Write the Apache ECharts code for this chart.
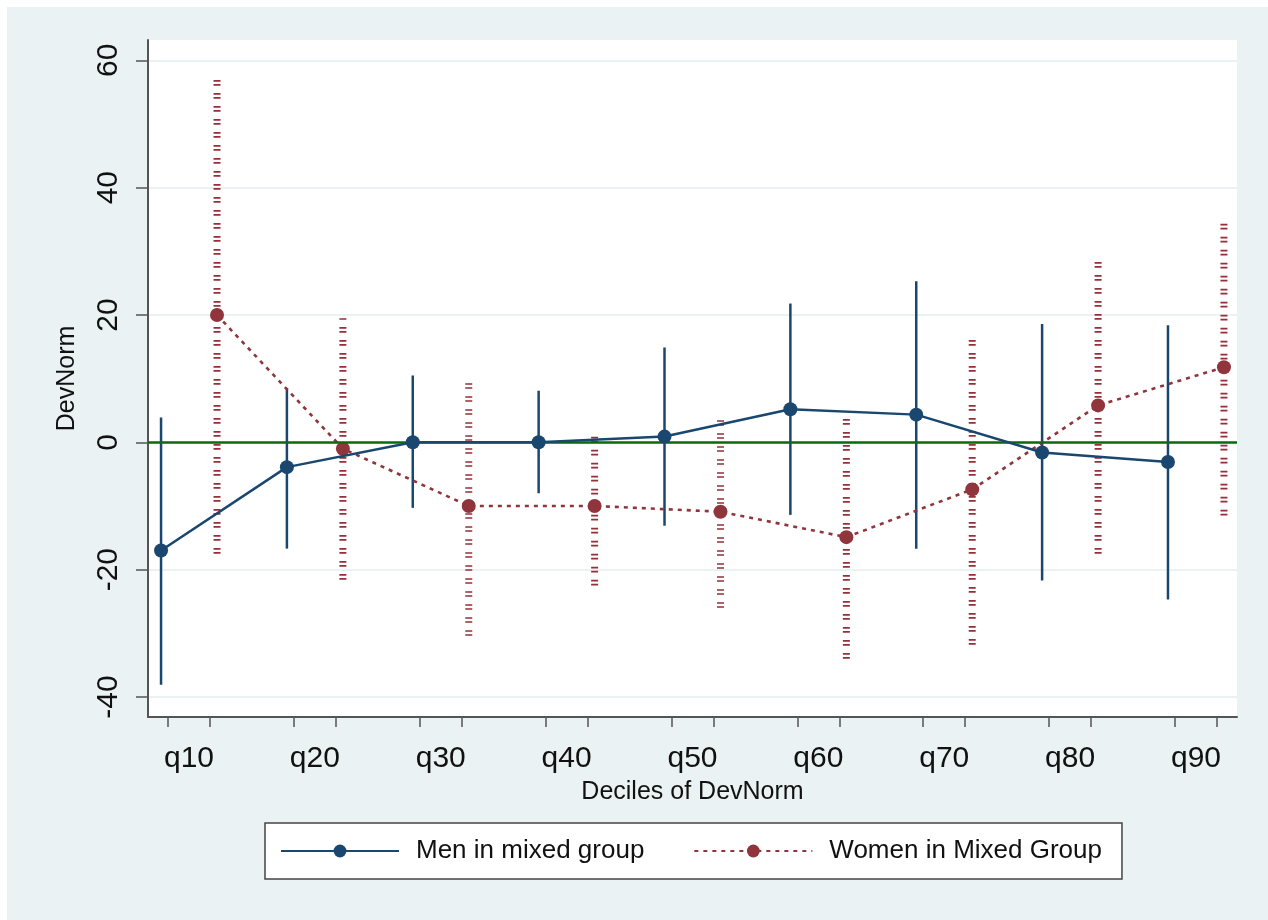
<!DOCTYPE html>
<html>
<head>
<meta charset="utf-8">
<script src="https://cdn.jsdelivr.net/npm/echarts@6/dist/echarts.min.js"></script>
<style>
  html, body { margin: 0; padding: 0; background: #ffffff; }
  #bg { position: absolute; left: 7px; top: 7px; width: 1261px; height: 913px; background: #eaf2f3; }
  #chart { position: absolute; left: 0; top: 0; width: 1268px; height: 920px; }
</style>
</head>
<body>
<div id="bg"></div>
<div id="chart"></div>
<script>
// ---- data ----
const categories = ['q10', 'q20', 'q30', 'q40', 'q50', 'q60', 'q70', 'q80', 'q90'];
const yTicks = [-40, -20, 0, 20, 40, 60];

const menMean = [-17.0, -3.9, 0.0, 0.0, 0.9, 5.2, 4.35, -1.6, -3.1];
const menLow  = [-38.1, -16.7, -10.3, -8.0, -13.1, -11.4, -16.7, -21.7, -24.7];
const menHigh = [3.9, 8.5, 10.5, 8.1, 14.9, 21.8, 25.3, 18.6, 18.4];

const womenMean = [20.0, -1.0, -10.0, -10.0, -10.9, -14.9, -7.4, 5.8, 11.8];
const womenLow  = [-17.5, -21.6, -30.4, -22.5, -26.0, -34.0, -31.8, -17.5, -11.5];
const womenHigh = [57.4, 19.5, 9.4, 1.8, 4.35, 4.2, 16.5, 29.2, 34.8];

const menName = 'Men in mixed group';
const womenName = 'Women in Mixed Group';

// ---- layout constants ----
const MEN_OFF = -0.2224, WOMEN_OFF = 0.2224, TICK_OFF = 0.1668;
const NAVY = '#1a476f', MAROON = '#90353b';
const FONT = '"Liberation Sans", Arial, sans-serif';

const catPos = categories.map((c, i) => i + 1);
const menPts = menMean.map((v, i) => [catPos[i] + MEN_OFF, v]);
const womenPts = womenMean.map((v, i) => [catPos[i] + WOMEN_OFF, v]);
const menBars = menLow.map((v, i) => [catPos[i] + MEN_OFF, v, menHigh[i]]);
const womenBars = womenLow.map((v, i) => [catPos[i] + WOMEN_OFF, v, womenHigh[i]]);
const xTickVals = [];
catPos.forEach(p => { xTickVals.push(p - TICK_OFF, p + TICK_OFF); });

function barRenderer(color, width, dash) {
  return function (params, api) {
    const a = api.coord([api.value(0), api.value(1)]);
    const b = api.coord([api.value(0), api.value(2)]);
    return {
      type: 'line',
      shape: { x1: a[0], y1: a[1], x2: b[0], y2: b[1] },
      style: { stroke: color, lineWidth: width, lineDash: dash || null }
    };
  };
}

const chart = echarts.init(document.getElementById('chart'), null, { renderer: 'canvas' });
chart.setOption({
  animation: false,
  backgroundColor: 'transparent',
  textStyle: { fontFamily: FONT },
  grid: {
    left: 148, right: 31, top: 40, bottom: 203,
    show: true, backgroundColor: '#ffffff', borderWidth: 0
  },
  xAxis: {
    type: 'value',
    min: 0.674, max: 9.326,
    name: 'Deciles of DevNorm',
    nameLocation: 'middle',
    nameGap: 63,
    nameTextStyle: { fontSize: 25, color: '#111', fontFamily: FONT },
    axisLine: { show: true, onZero: false, lineStyle: { color: '#555', width: 2 } },
    axisTick: { show: true, length: 10, customValues: xTickVals, lineStyle: { color: '#555', width: 1.5 } },
    axisLabel: {
      customValues: catPos,
      formatter: v => categories[Math.round(v) - 1] || '',
      fontSize: 30, color: '#111', margin: 27, fontFamily: FONT
    },
    splitLine: { show: false }
  },
  yAxis: {
    type: 'value',
    min: -43.15, max: 63.2,
    name: 'DevNorm',
    nameLocation: 'middle',
    nameGap: 68,
    nameRotate: 90,
    nameTextStyle: { fontSize: 25, color: '#111', fontFamily: FONT },
    axisLine: { show: true, lineStyle: { color: '#555', width: 2 } },
    axisTick: { show: true, length: 12, customValues: yTicks, lineStyle: { color: '#555', width: 1.5 } },
    axisLabel: {
      customValues: yTicks,
      rotate: 90,
      fontSize: 30, color: '#111', margin: 24, fontFamily: FONT
    },
    splitLine: { show: true, lineStyle: { color: '#eaf2f3', width: 2 } }
  },
  legend: {
    data: [menName, womenName],
    left: 265, top: 823,
    orient: 'horizontal',
    backgroundColor: '#ffffff',
    borderColor: '#444', borderWidth: 1.5, borderRadius: 0,
    padding: [15, 20, 15, 15],
    itemWidth: 118, itemHeight: 16, itemGap: 49,
    textStyle: { fontSize: 26, color: '#111', fontFamily: FONT, padding: [0, 0, 0, 12] }
  },
  series: [
    {
      type: 'custom',
      name: 'men-ci',
      renderItem: barRenderer(NAVY, 2.5),
      data: menBars,
      encode: { x: 0, y: [1, 2] },
      z: 3,
      silent: true,
      markLine: {
        silent: true,
        symbol: 'none',
        label: { show: false },
        lineStyle: { color: '#0b6b0b', width: 2.5, type: 'solid' },
        data: [{ yAxis: 0 }]
      }
    },
    {
      type: 'custom',
      name: 'women-ci',
      renderItem: barRenderer('#962f38', 7, [1.7, 2.3, 1.7, 7.3]),
      data: womenBars,
      encode: { x: 0, y: [1, 2] },
      z: 3,
      silent: true
    },
    {
      type: 'line',
      name: menName,
      data: menPts,
      symbol: 'circle',
      symbolSize: 14,
      itemStyle: { color: NAVY },
      lineStyle: { color: NAVY, width: 2.5 },
      z: 5
    },
    {
      type: 'line',
      name: womenName,
      data: womenPts,
      symbol: 'circle',
      symbolSize: 14,
      itemStyle: { color: MAROON },
      lineStyle: { color: MAROON, width: 2.6, type: [4, 5] },
      z: 4
    }
  ]
});
</script>
</body>
</html>
